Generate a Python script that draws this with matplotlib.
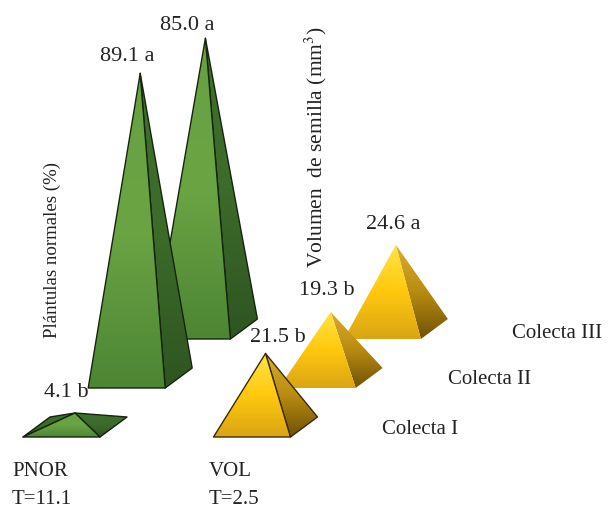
"""Pyramid chart: PNOR and VOL by collection."""

import matplotlib.pyplot as plt
import numpy as np
from matplotlib.colors import LinearSegmentedColormap
from matplotlib.patches import Polygon

plt.rcParams["font.family"] = ["Liberation Serif", "DejaVu Serif"]
plt.rcParams["mathtext.fontset"] = "stix"

COLLECTIONS = ["Colecta I", "Colecta II", "Colecta III"]
PNOR = [4.1, 89.1, 85.0]
PNOR_LETTERS = ["b", "a", "a"]
VOL = [21.5, 19.3, 24.6]
VOL_LETTERS = ["b", "b", "a"]

# layout: x in pixels, y in value units (1 unit = PX_PER_UNIT pixels)
PX_PER_UNIT = 3.42
WIDTH, HEIGHT = 613, 508
FRONT_BASE_PX = 427
ROW_X = 65.2
ROW_Y = 49 / PX_PER_UNIT
HALF_DEPTH = 10 / PX_PER_UNIT
PNOR_X = 75
VOL_X = 265.5
PNOR_LABEL_OFFSET = [(-9, 20), (-13, 17), (-18, 13)]
VOL_LABEL_OFFSET = [(12, 16), (-4, 21), (-3, 20)]

GREEN_FRONT = LinearSegmentedColormap.from_list("gf", ["#4d8534", "#6aa443", "#68a142"])
GREEN_RIGHT = LinearSegmentedColormap.from_list("gr", ["#2f5522", "#3c6b2a", "#3f702c"])
GOLD_FRONT = LinearSegmentedColormap.from_list("yf", ["#d9a514", "#ffc80e", "#ffe545"])
GOLD_RIGHT = LinearSegmentedColormap.from_list("yr", ["#6f5206", "#b98b10", "#dcae2c"])


def y_from_px(py):
    return (FRONT_BASE_PX - py) / PX_PER_UNIT


def shaded_face(ax, pts, cmap, edge):
    pts = np.array(pts)
    # images sit under patches by default, so stack everything by draw order
    z = 1 + len(ax.images) + len(ax.patches)
    face = Polygon(pts, closed=True, transform=ax.transData, fc="none", ec="none", zorder=z)
    ax.add_patch(face)
    grad = np.linspace(0, 1, 256).reshape(-1, 1)
    ax.imshow(grad, cmap=cmap, origin="lower", aspect="auto", clip_path=face, zorder=z + 1,
              extent=[pts[:, 0].min(), pts[:, 0].max(), pts[:, 1].min(), pts[:, 1].max()])
    ax.add_patch(Polygon(pts, closed=True, fc="none", ec=edge, lw=1.0, joinstyle="round",
                         zorder=z + 2))


def pyramid(ax, cx, cy, value, front, right, edge):
    fl = (cx - 52, cy - HALF_DEPTH)
    fr = (cx + 25, cy - HALF_DEPTH)
    br = (cx + 52, cy + HALF_DEPTH)
    bl = (cx - 25, cy + HALF_DEPTH)
    apex = (cx, cy + value)
    # the left face only shows when the pyramid is very flat
    cross = (bl[0] - fl[0]) * (apex[1] - fl[1]) - (bl[1] - fl[1]) * (apex[0] - fl[0])
    if cross < 0:
        shaded_face(ax, [fl, bl, apex], right, edge)
    shaded_face(ax, [fr, br, apex], right, edge)
    shaded_face(ax, [fl, fr, apex], front, edge)


def run():
    fig = plt.figure(figsize=(WIDTH / 100, HEIGHT / 100), dpi=100)
    ax = fig.add_axes([0, 0, 1, 1])

    # back row first so the front rows cover it
    for i in reversed(range(len(COLLECTIONS))):
        pyramid(ax, PNOR_X + i * ROW_X, i * ROW_Y, PNOR[i], GREEN_FRONT, GREEN_RIGHT, "#16240e")
    for i in reversed(range(len(COLLECTIONS))):
        edge = "#3a2c08" if i == 0 else "none"
        pyramid(ax, VOL_X + i * ROW_X, i * ROW_Y, VOL[i], GOLD_FRONT, GOLD_RIGHT, edge)

    for x0, vals, letters, offsets in [(PNOR_X, PNOR, PNOR_LETTERS, PNOR_LABEL_OFFSET),
                                       (VOL_X, VOL, VOL_LETTERS, VOL_LABEL_OFFSET)]:
        for i, (val, letter, off) in enumerate(zip(vals, letters, offsets)):
            ax.annotate(f"{val:.1f} {letter}", (x0 + i * ROW_X, i * ROW_Y + val),
                        xytext=off, textcoords="offset pixels", ha="center", va="center",
                        fontsize=16, color="#222222", annotation_clip=False, zorder=500)

    txt = dict(fontsize=15, color="#222222", va="center", zorder=500)
    ax.text(382, y_from_px(430), COLLECTIONS[0], ha="left", **txt)
    ax.text(448, y_from_px(380), COLLECTIONS[1], ha="left", **txt)
    ax.text(512, y_from_px(333), COLLECTIONS[2], ha="left", **txt)
    ax.text(12, y_from_px(472), "PNOR", ha="left", **txt)
    ax.text(12, y_from_px(499), "T=11.1", ha="left", **txt)
    ax.text(209, y_from_px(472), "VOL", ha="left", **txt)
    ax.text(209, y_from_px(499), "T=2.5", ha="left", **txt)

    ylab = dict(txt, ha="center", rotation=90)
    ylab["fontsize"] = 13.6
    ax.text(52, y_from_px(250), "Plántulas normales (%)", **ylab)
    ylab["fontsize"] = 15.5
    ax.text(316, y_from_px(147), "Volumen  de semilla (mm$^{3}$)", **ylab)

    ax.set_xlim(0, WIDTH)
    ax.set_ylim(y_from_px(HEIGHT), y_from_px(0))
    ax.axis("off")
    fig.savefig("out.png", dpi=100)
    plt.close(fig)


if __name__ == "__main__":
    run()
